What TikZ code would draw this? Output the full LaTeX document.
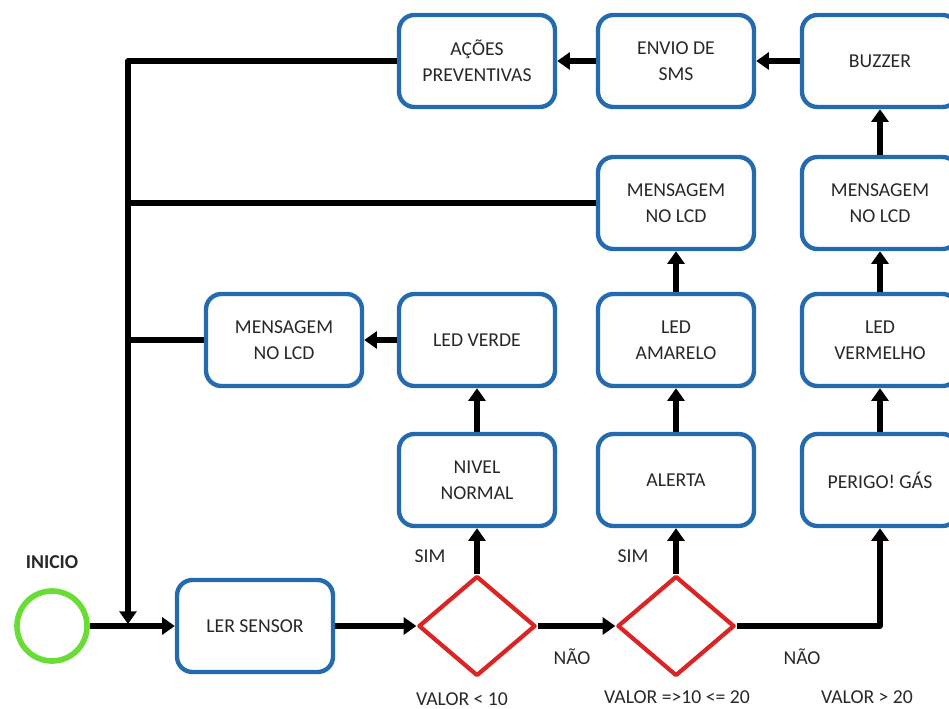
\documentclass[tikz,border=0pt]{standalone}
\usepackage{fontspec}
\setmainfont{Carlito}
\usetikzlibrary{shapes.geometric,arrows.meta,shadows}
\definecolor{azulcaixa}{RGB}{36,106,176}
\definecolor{vermelhodec}{RGB}{220,36,36}
\definecolor{verdeinicio}{RGB}{104,222,52}
\definecolor{texto}{RGB}{40,40,40}
\tikzset{
	caixa/.style={draw=azulcaixa, line width=3.1pt, rounded corners=11pt, fill=white,
		minimum width=3.9cm, minimum height=2.3cm, align=center, text=texto,
		font=\fontsize{14}{18.5}\selectfont,
		drop shadow={opacity=0.12, shadow xshift=1pt, shadow yshift=-1pt}},
	decisao/.style={diamond, draw=vermelhodec, line width=3pt, fill=white, inner sep=0pt,
		minimum width=2.925cm, minimum height=2.5cm},
	seta/.style={line width=3.8pt, -{Triangle[length=9pt,width=12pt]}},
	linha/.style={line width=3.8pt},
	rotulo/.style={font=\fontsize{14}{16}\selectfont, text=texto}
}
\begin{document}
\begin{tikzpicture}[x=0.025cm, y=-0.025cm, line join=round]
	\def\colA{284} \def\colB{477} \def\colC{676} \def\colD{880}
	\def\rowA{61} \def\rowB{203} \def\rowC{340} \def\rowD{480} \def\rowE{626}
	\useasboundingbox (0,0) rectangle (949,709);
	% inicio e leitura
	\node[circle, draw=verdeinicio, line width=4pt, fill=white, minimum size=1.75cm] (inicio) at (52,\rowE) {};
	\node[font=\fontsize{14}{16}\selectfont\bfseries, text=texto] (tinicio) at (52,562) {INICIO};
	\node[caixa] (ler) at (255,\rowE) {LER SENSOR};
	\node[decisao] (dec1) at (\colB,\rowE) {};
	\node[decisao] (dec2) at (\colC,\rowE) {};
	% coluna valor < 10
	\node[caixa] (nivel) at (\colB,\rowD) {NIVEL\\NORMAL};
	\node[caixa] (ledverde) at (\colB,\rowC) {LED VERDE};
	\node[caixa] (msgverde) at (\colA,\rowC) {MENSAGEM\\NO LCD};
	% coluna valor entre 10 e 20
	\node[caixa] (alerta) at (\colC,\rowD) {ALERTA};
	\node[caixa] (ledamarelo) at (\colC,\rowC) {LED\\AMARELO};
	\node[caixa] (msgamarelo) at (\colC,\rowB) {MENSAGEM\\NO LCD};
	% coluna valor > 20
	\node[caixa] (perigo) at (\colD,\rowD) {PERIGO! GÁS};
	\node[caixa] (ledvermelho) at (\colD,\rowC) {LED\\VERMELHO};
	\node[caixa] (msgvermelho) at (\colD,\rowB) {MENSAGEM\\NO LCD};
	\node[caixa] (buzzer) at (\colD,\rowA) {BUZZER};
	\node[caixa] (sms) at (\colC,\rowA) {ENVIO DE\\SMS};
	\node[caixa] (acoes) at (\colB,\rowA) {AÇÕES\\PREVENTIVAS};
	% rotulos
	\node[rotulo] (sim1) at (430,556) {SIM};
	\node[rotulo] (sim2) at (633,556) {SIM};
	\node[rotulo] (nao1) at (572,657) {NÃO};
	\node[rotulo] (nao2) at (802,657) {NÃO};
	\node[rotulo] (valor1) at (462,699) {VALOR < 10};
	\node[rotulo] (valor2) at (677,697) {VALOR =>10 <= 20};
	\node[rotulo] (valor3) at (867,697) {VALOR > 20};
	% retorno
	\coordinate (retA) at (128,\rowB);
	\coordinate (retB) at (128,\rowC);
	\coordinate (retfim) at (128,624);
	\draw[seta] (acoes.west) -| (retfim);
	\draw[linha] (msgamarelo.west) -- (retA);
	\draw[linha] (msgverde.west) -- (retB);
	% fluxo principal
	\draw[seta] (inicio.east) -- (ler.west);
	\draw[seta] (ler.east) -- (dec1.west);
	\draw[seta] (dec1.east) -- (dec2.west);
	\draw[seta] (dec2.east) -| (perigo.south);
	\draw[seta] (dec1.north) -- (nivel.south);
	\draw[seta] (dec2.north) -- (alerta.south);
	\draw[seta] (nivel) -- (ledverde);
	\draw[seta] (ledverde) -- (msgverde);
	\draw[seta] (alerta) -- (ledamarelo);
	\draw[seta] (ledamarelo) -- (msgamarelo);
	\draw[seta] (perigo) -- (ledvermelho);
	\draw[seta] (ledvermelho) -- (msgvermelho);
	\draw[seta] (msgvermelho) -- (buzzer);
	\draw[seta] (buzzer) -- (sms);
	\draw[seta] (sms) -- (acoes);
\end{tikzpicture}
\end{document}
